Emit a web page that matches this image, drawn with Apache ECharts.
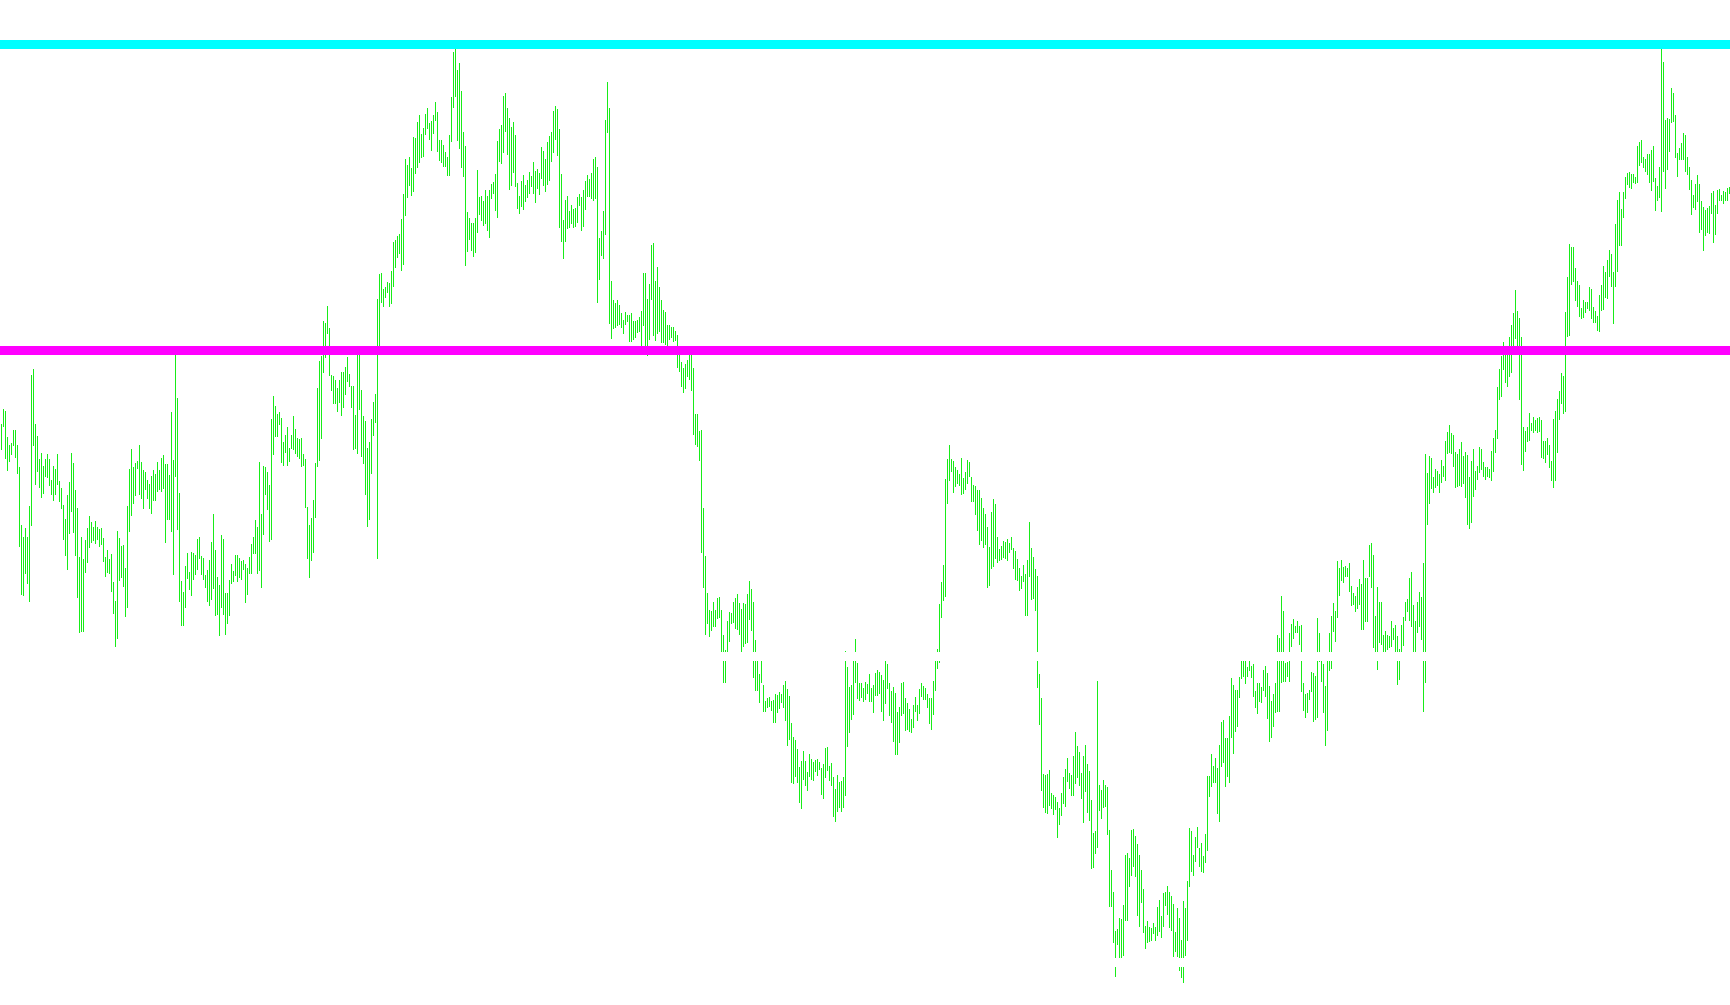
<!DOCTYPE html>
<html>
<head>
<meta charset="utf-8">
<script src="https://cdn.jsdelivr.net/npm/echarts@6/dist/echarts.min.js"></script>
<style>
html,body{margin:0;padding:0;background:#ffffff;}
#chart{width:1730px;height:1005px;}
</style>
</head>
<body>
<div id="chart"></div>
<script>
// Price levels (horizontal lines) and their colours
const levels = [955.5, 649.5, 343.5, 37.5];
const levelColors = ['#00ffff', '#ff00ff', '#ffffff', '#ffffff'];

// Bar highs / lows, read segment by segment
const highs1 = [576,591,589,563,555,557,570,570,555,533,475,463,472,463,494,625,631,576,564,541,547,534,541,546,541,520,534,531,546,519,512,495,481,505,518,547,537,510,492,443,463,441,460,472,484,478,473,479,473,471,472,462,443,450,441,446,418,399,469,462,454,455,432,494,531,551,533,537,539,555,538,530,528,520,516,524,530,526,538,530,542,545,536,536,525,588,540,648,602,507,419,408,434,447,428,448,447,445,461,463,444,442,425,430,440,458,486,450,423,415];
const lows1 = [550,573,541,529,538,545,554,542,526,453,405,404,426,416,398,474,554,515,528,512,502,506,523,522,514,505,499,505,515,498,491,460,444,430,466,488,467,444,402,367,368,368,427,437,452,457,459,456,460,453,455,438,423,427,426,408,386,353,361,419,422,413,383,392,468,484,496,504,531,505,501,491,510,501,491,486,499,499,508,510,508,511,457,480,480,468,425,523,470,398,374,374,392,421,410,404,420,425,430,441,425,420,412,398,394,400,411,384,385,364];

const highs2 = [465,461,407,407,420,436,429,445,445,442,439,440,436,432,443,456,463,480,473,538,486,534,533,528,515,581,604,594,586,588,582,558,565,573,552,565,584,571,562,561,562,546,541,493,475,482,500,537,612,639,644,679,677,694,672,625,624,620,612,620,628,628,633,643,626,614,614,585,648,648,610,584,579,552,558,581,598,606,701,726,727,711,713,718,717,729,758,760,764,766,781,806,841,835,843,832,863,862,878,885,866,872,886,892,877,879,885,898,888,860];
const lows2 = [392,385,365,376,384,416,418,424,418,422,420,430,397,405,426,426,446,446,426,429,412,465,505,490,458,460,545,563,563,575,537,534,547,534,538,551,550,546,543,541,533,534,492,441,422,439,447,482,533,539,561,627,642,666,624,609,596,596,588,597,584,592,605,618,613,592,550,551,546,590,543,536,505,473,480,526,564,577,441,654,697,693,702,707,693,696,713,732,742,746,729,735,784,802,814,804,808,826,832,837,842,843,865,871,860,849,866,879,848,839];

const highs3 = [860,855,848,843,865,903,948,955,930,937,909,868,854,788,782,777,777,782,830,803,804,799,810,804,810,816,818,826,859,871,875,904,907,892,882,873,878,865,817,804,819,825,815,820,828,824,838,829,831,827,853,849,841,858,864,868,889,894,891,871,826,780,800,804,789,795,791,792,803,806,803,810,819,825,821,827,841,843,833,762,769,789,880,918,892,719,700,697,700,695,687,680,688,685,685,687,679,679,680,683,689,727,727,701,716,755,757,719,733,713];
const lows3 = [837,833,833,824,824,858,892,903,859,851,832,823,734,748,760,749,743,747,767,785,779,774,776,769,762,801,806,789,782,838,836,847,868,845,810,814,827,813,791,786,793,790,798,802,806,813,806,797,811,805,821,814,808,815,819,838,847,860,844,772,758,741,758,771,772,776,772,773,777,794,769,773,790,803,803,801,799,801,697,720,744,741,765,867,676,661,671,672,674,675,672,666,675,678,658,658,660,662,667,668,650,674,648,644,660,700,664,659,666,668];

const highs4 = [700,690,688,675,675,673,673,669,665,645,638,632,636,640,645,650,632,586,586,569,570,492,444,407,390,389,398,390,402,403,390,365,350,379,388,387,398,402,406,397,391,397,396,406,419,411,398,360,345,326,340,315,299,302,303,299,300,306,305,308,306,315,319,311,304,277,263,260,251,233,239,249,239,228,246,241,238,240,241,238,232,236,252,253,234,237,223,211,225,218,219,223,349,333,313,315,340,361,337,317,317,312,318,316,326,312,315,327,330,328];
const lows4 = [657,657,655,654,660,662,658,659,632,628,613,607,611,623,620,609,565,555,553,539,447,412,365,376,363,369,373,373,381,382,348,317,317,348,358,376,377,371,370,365,348,353,356,357,380,369,322,309,309,297,317,288,288,292,293,289,277,277,287,291,297,292,279,254,260,217,216,223,217,197,191,220,214,209,223,220,219,228,224,230,205,201,222,229,219,214,183,178,188,192,188,192,204,253,267,280,285,317,301,299,302,298,300,306,298,298,287,304,304,306];

const highs5 = [325,320,339,336,317,309,313,307,288,293,317,318,302,297,291,281,295,303,295,311,317,314,312,306,302,302,319,339,351,396,418,435,521,541,555,541,539,533,530,526,542,522,528,540,538,523,515,514,510,510,502,492,486,473,453,488,501,496,463,451,454,459,458,461,457,463,452,449,441,432,424,435,426,440,478,452,443,431,424,326,302,226,225,226,230,207,205,203,198,192,207,223,231,242,227,225,244,268,254,248,227,244,255,236,229,200,167,169,319,215];
const lows5 = [288,279,296,311,284,277,258,245,245,257,284,286,269,270,268,267,272,288,279,286,303,300,300,292,276,270,285,309,331,337,382,399,403,496,519,528,507,513,516,514,505,506,510,516,523,498,498,485,469,455,459,452,455,412,414,431,433,441,437,439,440,442,441,439,447,450,431,420,419,409,411,418,384,384,423,400,401,389,312,275,209,192,187,186,194,191,185,190,162,175,184,196,193,218,211,204,204,216,222,214,201,177,208,187,179,131,132,146,152,189];

const highs6 = [210,220,215,213,170,130,108,69,71,82,81,95,145,147,142,170,171,164,156,145,130,111,74,79,73,72,77,73,93,100,84,107,108,114,108,104,96,68,92,82,60,99,92,119,172,169,145,163,173,152,157,144,166,224,224,246,234,242,232,255,278,280,262,262,284,322,315,310,310,323,339,339,339,333,339,334,336,309,317,317,313,330,334,327,314,299,306,317,365,362,404,389,337,338,367,376,381,374,379,374,375,317,306,307,310,328,327,324,382,367];
const lows6 = [181,192,193,165,93,93,57,23,55,42,42,44,79,79,113,124,133,123,84,73,97,67,51,57,58,59,66,59,64,68,62,73,94,85,72,69,43,48,43,29,22,17,44,59,113,128,124,138,152,133,128,127,137,149,203,213,217,217,186,178,233,237,213,223,217,262,246,268,273,302,321,323,316,323,329,322,303,292,286,298,297,309,303,281,258,262,273,287,288,288,317,318,318,323,318,353,361,367,367,355,308,289,282,287,300,308,278,280,282,338];

const highs7 = [343,336,314,343,367,384,397,389,439,432,440,433,434,432,437,414,407,404,413,421,416,440,422,422,455,457,445,384,413,398,398,365,369,365,364,379,372,375,364,351,375,383,398,401,422,428,395,379,398,408,403,437,546,527,544,542,523,531,529,526,540,534,559,568,575,567,565,548,546,551,558,544,548,545,523,539,551,529,534,553,551,538,533,533,531,549,562,570,613,631,644,658,645,653,663,675,687,710,689,682,663,573,569,573,587,577,583,580,582,583];
const lows7 = [318,287,254,269,329,331,368,358,382,404,419,417,423,423,408,394,395,388,391,395,370,370,378,378,423,412,352,348,330,357,355,348,348,350,352,353,360,348,315,320,348,354,379,388,379,373,348,348,367,373,360,288,317,475,496,511,507,512,514,507,517,523,519,546,547,546,533,512,513,514,513,516,502,475,471,477,503,510,520,527,530,523,520,523,522,519,528,547,561,600,603,630,617,613,623,627,650,661,654,600,535,529,548,558,559,569,567,569,567,568];

const highs8 = [580,559,559,562,555,539,581,589,601,609,627,624,688,723,756,753,753,732,719,715,692,700,698,698,713,711,693,689,684,705,715,734,728,740,750,746,728,776,800,808,791,808,823,827,828,826,826,823,854,858,860,843,841,846,846,850,854,822,814,833,955,938,880,882,881,912,907,885,847,852,857,867,865,843,833,820,805,816,825,816,799,793,790,792,794,807,809,795,810,811,805,809,808,812,813];
const lows8 = [542,541,537,545,532,519,512,519,547,580,596,586,588,663,664,715,718,699,693,683,681,682,687,691,689,681,677,677,669,668,689,690,702,701,723,713,676,713,728,754,754,782,801,815,812,811,817,816,817,834,837,832,828,825,817,809,818,789,799,802,788,828,811,830,848,877,878,842,823,840,840,840,828,825,810,785,792,790,798,767,770,749,764,767,766,786,757,765,786,799,799,796,799,799,806];

const highs = [].concat(highs1, highs2, highs3, highs4, highs5, highs6, highs7, highs8);
const lows = [].concat(lows1, lows2, lows3, lows4, lows5, lows6, lows7, lows8);
const barIndex = highs.map((_, i) => i);

const barColor = 'rgb(24,236,24)';

const chart = echarts.init(document.getElementById('chart'), null, {renderer: 'canvas'});

const barData = barIndex.map(i => [i, highs[i], lows[i]]);

function renderBar(params, api) {
  const i = api.value(0);
  const top = api.coord([i, api.value(1)]);
  const bot = api.coord([i, api.value(2)]);
  return {
    type: 'rect',
    shape: {x: Math.round(top[0]), y: top[1], width: 1, height: Math.max(1, bot[1] - top[1])},
    style: {fill: barColor}
  };
}

chart.setOption({
  animation: false,
  backgroundColor: '#ffffff',
  grid: {left: 0, right: 0, top: 0, bottom: 0, containLabel: false},
  xAxis: {
    type: 'category',
    data: barIndex,
    boundaryGap: true,
    show: false
  },
  yAxis: {
    type: 'value',
    min: -5,
    max: 1000,
    show: false,
    splitLine: {show: false}
  },
  series: [
    {
      type: 'custom',
      z: 2,
      renderItem: renderBar,
      encode: {x: 0, y: [1, 2]},
      data: barData,
      silent: true
    },
    {
      type: 'line',
      z: 10,
      data: [],
      silent: true,
      markLine: {
        silent: true,
        symbol: ['none', 'none'],
        animation: false,
        label: {show: false},
        emphasis: {disabled: true},
        data: levels.map((v, j) => ({
          yAxis: v,
          lineStyle: {color: levelColors[j], width: 9, type: 'solid', opacity: 1}
        }))
      }
    }
  ]
});
</script>
</body>
</html>
